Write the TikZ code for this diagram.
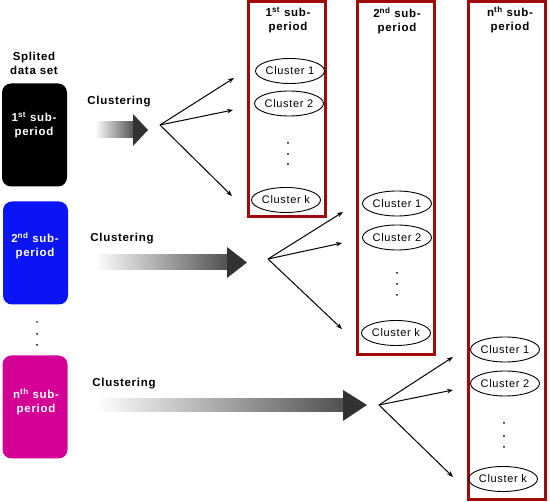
\documentclass[tikz,border=0pt]{standalone}
\usepackage{fontspec}
\setmainfont{Liberation Sans}
\newfontfamily\spfont[LetterSpace=6]{Liberation Sans}
\usetikzlibrary{shapes.geometric,arrows.meta}
\definecolor{dred}{RGB}{160,10,10}
\definecolor{pblue}{RGB}{10,20,245}
\definecolor{pmag}{RGB}{212,0,150}
\definecolor{adark}{RGB}{50,50,50}
\tikzset{
  lbl/.style={font=\fontsize{11.5}{14}\selectfont\spfont\bfseries, inner sep=0, align=center},
  wlbl/.style={lbl, text=white},
  databox/.style={rounded corners=9pt, minimum width=65pt, minimum height=103pt, inner sep=0},
  periodbox/.style={draw=dred, line width=3pt, minimum width=77pt, inner sep=0},
  clus/.style={ellipse, draw, line width=0.9pt, minimum width=69pt, minimum height=25pt, inner sep=0,
    font=\fontsize{11}{12}\selectfont\spfont},
  fan/.style={line width=1pt, -{Stealth[length=6pt,width=4.5pt]}},
  shaft/.style={left color=white, right color=adark!85!white, draw=none},
  head/.style={fill=adark, draw=none},
  dot/.style={fill=black}
}
\begin{document}
\begin{tikzpicture}[x=1pt,y=-1pt]
\useasboundingbox (0,0) rectangle (550,502);
% left data set
\node[lbl] (title) at (34,63) {Splited\\data set};
\node[databox, fill=black] (b1) at (34.5,135) {};
\node[wlbl] (t1) at (34,125) {1\textsuperscript{st} sub-\\period};
\node[databox, fill=pblue] (b2) at (35.5,253) {};
\node[wlbl] (t2) at (35,246) {2\textsuperscript{nd} sub-\\period};
\node[databox, fill=pmag] (b3) at (35,407) {};
\node[wlbl] (t3) at (36,402) {n\textsuperscript{th} sub-\\period};
\fill[dot] (37,322) circle (0.9) (37,334) circle (1) (37,345) circle (1);
% clustering labels
\node[lbl] (c1) at (119,102) {Clustering};
\node[lbl] (c2) at (122,239) {Clustering};
\node[lbl] (c3) at (124,384) {Clustering};
% gradient arrows
\shade[shaft] (95,122) rectangle (134,138);
\fill[head] (133,114) -- (148,130) -- (133,146) -- cycle;
\shade[shaft] (95,255) rectangle (228,270);
\fill[head] (227,247) -- (247,262.5) -- (227,278) -- cycle;
\shade[shaft] (95,398.5) rectangle (344,412);
\fill[head] (343,390) -- (367,405) -- (343,421) -- cycle;
% period boxes
\node[periodbox, minimum height=215pt] (p1) at (287,109) {};
\node[periodbox, minimum height=353pt] (p2) at (396,178) {};
\node[periodbox, minimum height=498pt] (p3) at (507,250.5) {};
\node[lbl] (h1) at (288,20) {1\textsuperscript{st} sub-\\period};
\node[lbl] (h2) at (397,21) {2\textsuperscript{nd} sub-\\period};
\node[lbl] (h3) at (510,20) {n\textsuperscript{th} sub-\\period};
% clusters
\node[clus] (k11) at (290,71) {Cluster 1};
\node[clus] (k12) at (289,103.5) {Cluster 2};
\node[clus] (k1k) at (286,200) {Cluster k};
\fill[dot] (288,143) circle (1) (288,154) circle (1) (288,164) circle (1);
\node[clus] (k21) at (397,203.5) {Cluster 1};
\node[clus] (k22) at (397,237.5) {Cluster 2};
\node[clus] (k2k) at (396,333) {Cluster k};
\fill[dot] (397,273) circle (1) (397,284) circle (1) (397,295) circle (1);
\node[clus] (k31) at (505,349.5) {Cluster 1};
\node[clus] (k32) at (505,383.5) {Cluster 2};
\node[clus] (k3k) at (503,479) {Cluster k};
\fill[dot] (504,423) circle (1) (504,436) circle (1) (504,447) circle (1);
% fans
\coordinate (o1) at (160,125);
\coordinate (e11) at (234,78);
\coordinate (e12) at (233,110);
\coordinate (e13) at (232,196);
\coordinate (o2) at (268,259);
\coordinate (e21) at (343,212);
\coordinate (e22) at (342,243);
\coordinate (e23) at (342,329);
\coordinate (o3) at (379,405);
\coordinate (e31) at (453,357);
\coordinate (e32) at (453,390);
\coordinate (e33) at (453,477);
\foreach \i in {1,2,3}{
  \draw[fan] (o\i) -- (e\i1);
  \draw[fan] (o\i) -- (e\i2);
  \draw[fan] (o\i) -- (e\i3);
}
\end{tikzpicture}
\end{document}
